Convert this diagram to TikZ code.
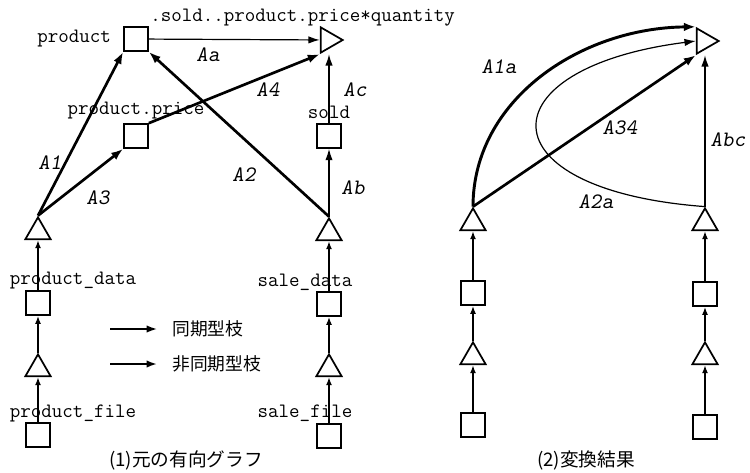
\documentclass[tikz,border=0pt]{standalone}
\usepackage{fontspec}
\newfontfamily\jpfont{Noto Sans CJK JP}
\usepackage{tikz}
\usetikzlibrary{arrows.meta, positioning, shapes.geometric}

\begin{document}
\begin{tikzpicture}[
    x=0.75pt, y=-0.75pt,
    box/.style={draw, line width=1.3pt, minimum size=18pt, inner sep=0pt},
    tri/.style={draw, line width=1.3pt, regular polygon, regular polygon sides=3,
                minimum size=22pt, inner sep=0pt},
    trir/.style={tri, shape border rotate=-90},
    sync/.style={-{Latex[length=8.5pt,width=5.5pt]}, line width=0.9pt},
    async/.style={-{Latex[length=9pt,width=6.5pt]}, line width=2pt},
    chain/.style={-{Latex[length=6pt,width=4.5pt]}, line width=1.1pt},
    lbl/.style={font=\ttfamily\fontsize{15.3}{16}\selectfont, inner sep=0pt},
    elbl/.style={font=\ttfamily\slshape\fontsize{16.5}{18}\selectfont, inner sep=0pt},
    jp/.style={font=\jpfont\fontsize{13.3}{15}\selectfont, inner sep=0pt},
]
\useasboundingbox (0,0) rectangle (750,472);

% (1) original graph
\node[box] (prod) at (136,39) {};
\node[trir] (res1) at (328,40) {};
\node[box] (price) at (136,136) {};
\node[box] (sold) at (329,136) {};
\node[tri] (pdt) at (38,232) {};
\node[tri] (sdt) at (329,233) {};
\node[box] (pds) at (38,303) {};
\node[box] (sds) at (329,304) {};
\node[tri] (pft) at (38,369) {};
\node[tri] (sft) at (329,369) {};
\node[box] (pfs) at (38,435) {};
\node[box] (sfs) at (329,436) {};

\node[lbl, left=9pt of prod] (tprod) {product};
\node[lbl, anchor=west] (tres) at (150,18) {.sold..product.price*quantity};
\node[lbl, above=3pt of price] (tprice) {product.price};
\node[lbl, above=3pt of sold] (tsold) {sold};
\node[lbl] (tpdata) at (73,281) {product\_data};
\node[lbl] (tsdata) at (305,282) {sale\_data};
\node[lbl] (tpfile) at (73,413) {product\_file};
\node[lbl] (tsfile) at (305,413) {sale\_file};

\draw[async] (pdt.corner 1) -- (prod.south west);
\draw[async] (pdt.corner 1) -- (price.south west);
\draw[async] (sdt.corner 1) -- (prod.south east);
\draw[async] (price.north east) -- (res1.corner 3);
\draw[sync] (prod) -- (res1);
\draw[sync] (sdt.corner 1) -- (sold);
\draw[sync] (sold) -- (sold |- res1.corner 3);

\node[elbl] (la) at (208,55) {Aa};
\node[elbl] (l4) at (268,90) {A4};
\node[elbl] (lc) at (355,90) {Ac};
\node[elbl] (l1) at (50,163) {A1};
\node[elbl] (l3) at (98,198) {A3};
\node[elbl] (l2) at (244,175) {A2};
\node[elbl] (lb) at (353,188) {Ab};

% legend
\coordinate (syncA) at (110,329);
\coordinate (asyncA) at (110,364);
\node[jp, anchor=west] (tsync) at (172,329) {同期型枝};
\node[jp, anchor=west] (tasync) at (172,364) {非同期型枝};
\draw[-{Latex[length=8pt,width=5.5pt]}, line width=1.4pt, shorten >=11pt] (syncA) -- (tsync);
\draw[-{Latex[length=8pt,width=5.5pt]}, line width=1.8pt, shorten >=11pt] (asyncA) -- (tasync);

% (2) result
\node[trir] (res2) at (704,41) {};
\node[tri] (lt1) at (473,223) {};
\node[tri] (rt1) at (705,223) {};
\node[box] (ls1) at (473,293) {};
\node[box] (rs1) at (705,294) {};
\node[tri] (lt2) at (473,357) {};
\node[tri] (rt2) at (705,357) {};
\node[box] (ls2) at (473,425) {};
\node[box] (rs2) at (705,427) {};

\draw[async, line width=2.2pt] (lt1.corner 1) .. controls (473,100) and (580,28) .. (res2.corner 2);
\draw[async] (lt1.corner 1) -- (res2.corner 3);
\draw[sync] (rt1.corner 1) .. controls (482,190) and (484,68) .. (res2.side 2);
\draw[sync] (rt1.corner 1) -- (rt1.corner 1 |- res2.corner 3);

\node[elbl] (l1a) at (499,67) {A1a};
\node[elbl] (l34) at (620,128) {A34};
\node[elbl] (lbc) at (728,140) {Abc};
\node[elbl] (l2a) at (596,202) {A2a};

% vertical chains
\foreach \a/\b in {pfs/pft, pds/pdt, sfs/sft, sds/sdt, ls2/lt2, ls1/lt1, rs2/rt2, rs1/rt1}
  \draw[chain] (\a) -- (\b.south);
\foreach \a/\b in {pft/pds, sft/sds, lt2/ls1, rt2/rs1}
  \draw[chain] (\a.corner 1) -- (\b);

\node[jp, font=\jpfont\fontsize{14}{16}\selectfont] (cap1) at (186,460) {(1)元の有向グラフ};
\node[jp, font=\jpfont\fontsize{14}{16}\selectfont] (cap2) at (586,460) {(2)変換結果};
\end{tikzpicture}
\end{document}
